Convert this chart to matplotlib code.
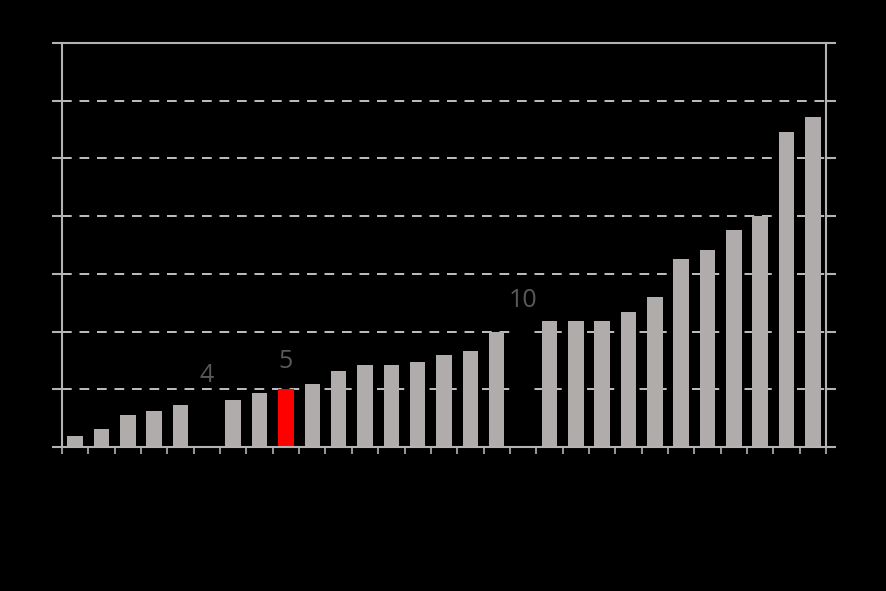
import matplotlib
matplotlib.use('Agg')
import matplotlib.pyplot as plt
import numpy as np

# bar heights, one per slot (gridline = 1 unit)
values = [0.19, 0.31, 0.55, 0.62, 0.73, 0.75, 0.81, 0.94, 1.00, 1.09,
          1.32, 1.42, 1.42, 1.47, 1.59, 1.66, 1.99, 2.05, 2.18, 2.18,
          2.18, 2.34, 2.60, 3.26, 3.41, 3.76, 4.00, 5.46, 5.72]
# slot -> colour role
highlight = {8: 'red'}
hidden = [5, 17]
annotations = {5: '4', 8: '5', 17: '10'}

GREY = '#b0acab'
LINE = '#b3b3b3'

fig = plt.figure(figsize=(8.86, 5.91), dpi=100, facecolor='black')
ax = fig.add_axes([0.070, 0.2437, 0.8623, 0.6835])
ax.set_facecolor('black')

x = np.arange(len(values))
colors = []
for i in x:
    if i in highlight:
        colors.append('#ff0000')
    elif i in hidden:
        colors.append('black')
    else:
        colors.append(GREY)
ax.bar(x, values, width=0.59, color=colors, zorder=3)

for i, txt in annotations.items():
    ax.annotate(txt, (i, values[i]), xytext=(0, 11), textcoords='offset points',
                ha='center', va='bottom', fontsize=18, color='#595959',
                family=['Open Sans', 'DejaVu Sans'], zorder=4)

ax.set_xlim(-0.5, len(values) - 0.5)
ax.set_ylim(0, 7)
ax.set_yticks(np.arange(0, 8))
ax.set_xticks(np.arange(-0.5, len(values), 1.0))
ax.set_xticklabels([])
ax.set_yticklabels([])
ax.grid(axis='y', color='#c0c0c0', linestyle=(0, (5, 4)), linewidth=1.4, zorder=1)

for s in ax.spines.values():
    s.set_color(LINE)
    s.set_linewidth(1.5)
    s.set_zorder(5)

ax.tick_params(axis='x', direction='out', length=5, width=1.2, color=LINE)
ax.tick_params(axis='y', direction='out', length=7.5, width=1.5, color=LINE,
               left=True, right=True)

fig.savefig('out.png', dpi=100, facecolor='black')
